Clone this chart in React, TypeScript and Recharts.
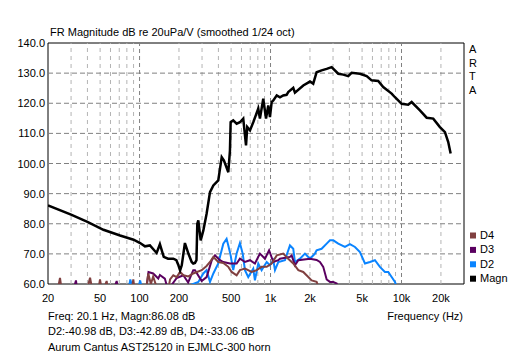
import { LineChart, Line, XAxis, YAxis, ReferenceLine, ReferenceArea } from "recharts";

// Magnitude response (Hz, dB)
const magnFreq = [
  20, 30, 40, 53, 71, 90, 101, 110, 120, 135, 143, 153, 165, 181, 191, 197, 204, 210, 222, 236,
  250, 257, 265, 272, 276, 281, 293, 307, 325, 345, 366, 399, 424, 441, 476, 490, 496, 519, 551, 584,
  619, 650, 664, 697, 738, 806, 830, 880, 924, 961, 990, 1020, 1050, 1116, 1180, 1250, 1327, 1365, 1491, 1536,
  1778, 2000, 2118, 2248, 2454, 2683, 2928, 3289, 3592, 3921, 4160, 4816, 5420, 5914, 6640, 7252, 8408, 8913, 10026, 11250,
  11950, 13825, 15560, 17470, 19650, 21460, 22740, 23720,
];
const magnDb = [
  86.1, 83.0, 80.6, 78.0, 76.1, 74.7, 73.6, 72.5, 72.8, 70.3, 73.2, 69.0, 68.4, 68.4, 67.9, 66.5, 64.5, 66.2, 73.6, 70.1,
  67.3, 66.8, 67.0, 67.9, 80.0, 81.1, 74.5, 77.8, 83.3, 90.5, 92.7, 94.4, 102.1, 101.0, 97.1, 104.3, 113.7, 114.3, 113.2, 113.7,
  114.9, 106.0, 112.1, 111.0, 113.7, 118.2, 114.9, 121.5, 114.9, 119.3, 115.4, 120.4, 120.9, 122.6, 122.0, 122.6, 122.8, 123.7, 125.1, 123.5,
  125.9, 127.2, 126.5, 130.3, 130.9, 131.4, 132.0, 129.8, 129.5, 129.0, 130.1, 129.8, 129.0, 127.6, 127.4, 125.4, 123.2, 122.0, 119.8, 119.5,
  120.4, 117.6, 115.2, 114.9, 112.1, 110.4, 107.1, 103.3,
];

// 2nd harmonic distortion
const d2Freq = [
  20, 80, 85, 88, 97, 101, 106, 180, 197, 281, 307, 325, 345, 366, 399, 436, 462, 476, 496, 519,
  551, 584, 613, 638, 676, 738, 760, 806, 855, 935, 990, 1050, 1081, 1146, 1288, 1407, 1491, 1536, 1678, 1832,
  2000, 2183, 2248, 2454, 2683, 2843, 3013, 3289, 3700, 4038, 4412, 4816, 5260, 5740, 6268, 6840, 7472, 7920, 8408, 8913,
  9500, 10500,
];
const d2Db = [
  50, 55, 61.5, 59, 58, 61.2, 57, 55, 58, 60.7, 63.5, 64.6, 60.7, 63.5, 66.8, 73.4, 75.0, 72.8, 69.5, 64.6,
  70.1, 73.6, 70.1, 64.6, 62.3, 65.1, 61.2, 66.8, 64.6, 67.3, 66.2, 67.9, 64.6, 67.3, 67.9, 72.8, 71.7, 67.3, 68.4, 70.1,
  68.4, 70.1, 71.2, 71.7, 73.4, 74.5, 74.5, 73.4, 72.3, 73.2, 72.3, 70.6, 66.8, 67.3, 67.9, 65.7, 64.0, 64.0, 62.3, 60.7,
  57, 52,
];

// 3rd harmonic distortion
const d3Freq = [
  20, 30, 32.7, 34, 60, 66.9, 70, 110, 117, 127, 139, 143, 156, 165, 192, 216, 235, 257, 265, 298,
  325, 356, 377, 411, 436, 490, 551, 584, 638, 697, 760, 830, 907, 975, 1050, 1146, 1180, 1407, 1450, 1536,
  1630, 2000, 2248, 2383, 2526, 2683, 2843, 3013, 3199, 3289, 3600,
];
const d3Db = [
  50, 55, 61.2, 55, 55, 61.0, 56, 55, 64.0, 63.5, 61.8, 63.0, 61.8, 58, 62.0, 62.9, 60.5, 64.6, 64.6, 61.0,
  62.3, 67.9, 69.5, 67.9, 67.3, 66.8, 66.8, 68.4, 67.3, 67.9, 66.8, 70.1, 68.4, 71.2, 67.3, 67.9, 68.4, 69.0, 69.5, 66.2,
  67.9, 68.4, 68.0, 67.3, 65.7, 61.5, 60.7, 60.7, 60.2, 58, 55,
];

// 4th harmonic distortion
const d4Freq = [
  20, 23, 24.7, 26, 38, 41.9, 44, 48, 49.9, 52, 56.1, 58, 85, 89.6, 93, 110, 116.6, 122, 127, 135,
  160, 171, 181, 192, 204, 216, 236, 257, 298, 325, 345, 366, 399, 436, 476, 505, 551, 584, 638, 718,
  784, 855, 935, 1020, 1116, 1250, 1365, 1491, 1630, 1778, 1942, 2060, 2248, 2383, 2600,
];
const d4Db = [
  50, 55, 62.0, 55, 55, 62.1, 57, 57, 61.5, 57, 61.0, 56, 55, 61.5, 56, 55, 63.5, 60, 62.5, 59,
  55, 61.5, 62.9, 62.3, 64.0, 62.9, 62.5, 63.5, 64.6, 66.0, 67.3, 69.0, 67.3, 67.0, 65.7, 64.0, 62.9, 64.6, 65.1, 64.0,
  64.6, 65.7, 65.7, 66.8, 69.5, 70.1, 68.4, 66.8, 64.6, 64.0, 62.3, 61.2, 60.7, 58, 55,
];

const yTicks = [60, 70, 80, 90, 100, 110, 120, 130, 140];
const xTicks = [20, 50, 100, 200, 500, 1000, 2000, 5000, 10000, 20000];
const gridMinor = [30, 40, 50, 60, 70, 80, 90, 200, 300, 400, 500, 600, 700, 800, 900,
  2000, 3000, 4000, 5000, 6000, 7000, 8000, 9000, 20000];
const gridMajor = [100, 1000, 10000];

const legendNames = ["D4", "D3", "D2", "Magn"];
const legendColors = ["#804040", "#5a0060", "#0a84ff", "#000000"];

const zip = (fs: number[], vs: number[]) => fs.map((f, i) => ({ f, v: vs[i] }));
const fmtHz = (v: number) => (v >= 1000 ? v / 1000 + "k" : String(v));

const FONT = "'Liberation Sans', Arial, sans-serif";

function XTick(props: any) {
  const { x, payload } = props;
  return (
    <text x={x} y={302} textAnchor="middle" fontSize={11} fontFamily={FONT} fill="#000">
      {fmtHz(payload.value)}
    </text>
  );
}

function YTick(props: any) {
  const { y, payload } = props;
  return (
    <text x={45} y={y + 4} textAnchor="end" fontSize={11} fontFamily={FONT} fill="#000">
      {payload.value.toFixed(1)}
    </text>
  );
}

export default function App() {
  return (
    <div style={{ position: "absolute", left: 0, top: 0, width: 512, height: 358, background: "#fff" }}>
      <LineChart width={512} height={358} margin={{ top: 43, right: 48, bottom: 0, left: 0 }}>
        <XAxis
          dataKey="f" type="number" scale="log" domain={[20, 30000]} allowDataOverflow
          ticks={xTicks} interval={0} tick={<XTick />} tickLine={false} axisLine={false} height={74}
        />
        <YAxis
          type="number" domain={[60, 140]} allowDataOverflow ticks={yTicks} interval={0}
          tick={<YTick />} tickLine={false} axisLine={false} width={48}
        />
        {gridMinor.map((g) => (
          <ReferenceLine key={"gx" + g} x={g} stroke="#b4b4b4" strokeDasharray="4 4" />
        ))}
        {gridMajor.map((g) => (
          <ReferenceLine key={"gm" + g} x={g} stroke="#808080" strokeDasharray="4 3" />
        ))}
        {yTicks.slice(1, -1).map((g) => (
          <ReferenceLine key={"gy" + g} y={g} stroke="#808080" strokeDasharray="5 3" />
        ))}
        <Line data={zip(d2Freq, d2Db)} dataKey="v" stroke={legendColors[2]} strokeWidth={2} dot={false} isAnimationActive={false} />
        <Line data={zip(d3Freq, d3Db)} dataKey="v" stroke={legendColors[1]} strokeWidth={2} dot={false} isAnimationActive={false} />
        <Line data={zip(d4Freq, d4Db)} dataKey="v" stroke={legendColors[0]} strokeWidth={2} dot={false} isAnimationActive={false} />
        <Line data={zip(magnFreq, magnDb)} dataKey="v" stroke="#000" strokeWidth={2.5} dot={false} isAnimationActive={false} />
        <ReferenceArea x1={20} x2={30000} y1={60} y2={140} fill="none" stroke="#000" strokeWidth={1} />
      </LineChart>
      <svg width={512} height={358} style={{ position: "absolute", left: 0, top: 0, pointerEvents: "none" }}
        fontFamily={FONT} fontSize={11}>
        <text x={50} y={36}>FR Magnitude dB re 20uPa/V (smoothed 1/24 oct)</text>
        {["A", "R", "T", "A"].map((c, i) => (
          <text key={i} x={469} y={53 + i * 13.5}>{c}</text>
        ))}
        {legendNames.map((n, i) => (
          <g key={n}>
            <rect x={470} y={232.5 + i * 14.4} width={6} height={6} fill={legendColors[i]} />
            <text x={480} y={239 + i * 14.4}>{n}</text>
          </g>
        ))}
        <text x={48} y={319.5}>Freq: 20.1 Hz, Magn:86.08 dB</text>
        <text x={463} y={319.5} textAnchor="end">Frequency (Hz)</text>
        <text x={48} y={334.5}>D2:-40.98 dB, D3:-42.89 dB, D4:-33.06 dB</text>
        <text x={48} y={350.5}>Aurum Cantus AST25120 in EJMLC-300 horn</text>
      </svg>
    </div>
  );
}
